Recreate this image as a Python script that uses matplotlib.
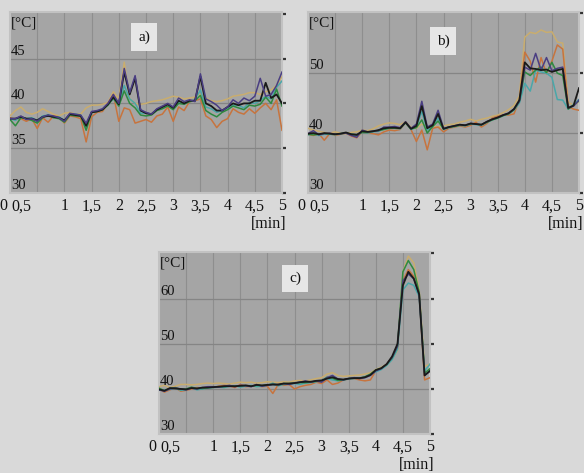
import numpy as np
import matplotlib
matplotlib.use("Agg")
import matplotlib.pyplot as plt

# time axis [min]
t = [i / 10 for i in range(51)]

# ---------- panel a) ----------
a_khaki = [38.6, 39.2, 39.6, 39.0, 38.8, 39.0, 39.4, 39.1, 38.8, 38.6,
           38.9, 39.0, 38.8, 38.8, 39.5, 39.8, 39.8, 39.9, 40.1, 41.3,
           40.5, 44.6, 40.5, 40.0, 39.9, 40.0, 40.2, 40.3, 40.4, 40.6,
           40.8, 40.7, 40.5, 40.6, 40.7, 41.0, 40.6, 40.3, 40.2, 40.3,
           40.5, 40.8, 40.9, 41.0, 41.2, 41.2, 41.0, 41.3, 41.5, 42.0,
           43.0]
a_orange = [38.4, 38.2, 38.3, 38.0, 38.3, 37.2, 38.4, 37.9, 38.6, 38.5,
            37.8, 38.6, 38.5, 38.3, 35.7, 38.5, 39.0, 39.1, 40.0, 41.0,
            38.0, 39.5, 39.3, 37.8, 38.0, 38.2, 37.9, 38.6, 38.8, 39.6,
            38.0, 39.6, 39.2, 40.2, 40.3, 40.5, 38.6, 38.2, 37.3, 38.0,
            38.3, 39.4, 39.0, 38.8, 39.4, 38.9, 39.5, 40.0, 39.3, 40.4,
            37.0]
a_navy = [38.3, 38.3, 38.6, 38.2, 38.3, 38.0, 38.5, 38.7, 38.6, 38.4,
          38.0, 38.9, 38.8, 38.7, 37.8, 39.1, 39.2, 39.4, 40.0, 41.0,
          40.0, 43.9, 41.2, 43.1, 39.3, 39.0, 38.8, 39.4, 39.7, 40.0,
          39.6, 40.6, 40.2, 40.4, 40.2, 43.3, 40.5, 40.2, 39.8, 39.2,
          39.6, 40.4, 40.0, 40.6, 40.3, 40.8, 42.8, 40.8, 41.0, 42.0,
          43.5]
a_teal = [38.3, 38.1, 38.5, 38.3, 38.4, 38.1, 38.6, 38.7, 38.5, 38.5,
          38.1, 38.7, 38.8, 38.7, 37.3, 39.0, 39.1, 39.3, 39.9, 40.5,
          39.8, 42.0, 40.5, 40.0, 38.9, 38.9, 38.8, 39.3, 39.6, 39.9,
          39.5, 40.2, 40.0, 40.2, 40.4, 41.5, 39.6, 39.4, 39.0, 39.2,
          39.5, 39.8, 39.8, 39.5, 40.1, 40.0, 40.3, 40.8, 40.5, 41.8,
          42.5]
a_green = [38.2, 37.5, 38.4, 38.3, 38.1, 37.8, 38.4, 38.7, 38.4, 38.3,
           37.9, 38.7, 38.6, 38.6, 37.0, 39.0, 39.1, 39.3, 39.8, 40.6,
           39.7, 41.4, 40.0, 39.5, 38.7, 38.6, 38.7, 39.2, 39.4, 39.7,
           39.3, 40.0, 39.9, 40.2, 40.3, 40.9, 39.2, 38.8, 38.5, 39.0,
           39.3, 39.7, 39.5, 39.3, 39.8, 39.7, 39.9, 40.7, 40.0, 41.6,
           39.7]
a_black = [38.3, 38.3, 38.5, 38.3, 38.3, 38.1, 38.5, 38.6, 38.5, 38.4,
           38.1, 38.8, 38.7, 38.6, 37.5, 39.0, 39.1, 39.3, 39.9, 40.7,
           39.9, 43.5, 41.0, 42.8, 39.2, 38.9, 38.8, 39.3, 39.6, 39.9,
           39.5, 40.3, 40.0, 40.3, 40.3, 43.0, 40.0, 39.7, 39.2, 39.2,
           39.6, 40.0, 39.8, 40.0, 40.0, 40.3, 40.3, 42.3, 40.6, 41.0,
           40.0]

# ---------- panel b) ----------
b_khaki = [40.8, 40.5, 40.3, 40.1, 40.0, 40.2, 40.0, 39.9, 40.1, 40.2,
           40.5, 40.4, 40.7, 41.2, 41.5, 41.7, 41.6, 41.4, 41.9, 41.0,
           40.8, 41.5, 41.0, 41.2, 41.0, 41.2, 41.4, 41.5, 41.8, 42.0,
           42.3, 42.0, 42.3, 42.5, 42.8, 43.0, 43.4, 43.9, 44.6, 46.2,
           56.0, 56.8, 56.6, 57.2, 56.8, 56.9, 55.2, 55.0, 45.2, 44.6,
           45.3]
b_orange = [39.8, 39.6, 39.9, 38.8, 39.9, 39.6, 39.8, 40.0, 39.5, 39.2,
            40.3, 40.0, 39.9, 39.7, 40.2, 40.5, 40.4, 40.6, 41.8, 40.6,
            38.6, 40.5, 37.2, 40.8, 41.0, 40.2, 40.8, 41.0, 41.2, 41.0,
            41.3, 41.8, 41.0, 41.6, 42.5, 42.8, 43.0, 43.0, 43.2, 45.5,
            53.5, 52.0, 48.5, 52.6, 49.9, 52.0, 54.7, 54.0, 44.4, 44.0,
            43.8]
b_navy = [39.9, 40.4, 39.7, 39.9, 40.0, 39.8, 39.9, 40.0, 39.6, 39.3,
          40.5, 40.2, 40.3, 40.4, 41.0, 41.0, 41.1, 40.9, 41.9, 40.8,
          41.5, 45.3, 41.0, 41.5, 43.8, 40.8, 41.0, 41.2, 41.4, 41.3,
          41.6, 41.5, 41.4, 41.9, 42.3, 42.6, 43.0, 43.3, 44.0, 45.3,
          51.0, 50.5, 53.3, 50.5, 52.6, 50.4, 50.8, 51.0, 44.2, 44.5,
          45.5]
b_teal = [39.7, 39.9, 39.6, 39.8, 39.8, 39.7, 39.9, 40.0, 39.8, 39.6,
          40.2, 40.0, 40.2, 40.3, 40.7, 40.9, 40.8, 40.7, 41.8, 40.6,
          41.0, 43.6, 40.5, 41.0, 42.5, 40.6, 40.9, 41.1, 41.3, 41.2,
          41.5, 41.4, 41.3, 41.8, 42.2, 42.5, 42.9, 43.2, 43.8, 45.0,
          48.3, 47.0, 50.5, 50.2, 50.0, 49.3, 45.6, 45.5, 44.0, 44.8,
          45.6]
b_green = [39.8, 39.7, 39.8, 39.9, 39.9, 39.8, 39.9, 40.0, 39.8, 39.7,
           40.1, 40.1, 40.3, 40.4, 40.6, 40.8, 40.8, 40.8, 41.7, 40.7,
           40.9, 42.2, 40.0, 41.1, 42.0, 40.7, 41.0, 41.1, 41.3, 41.3,
           41.5, 41.5, 41.4, 41.8, 42.2, 42.5, 42.9, 43.2, 43.9, 45.3,
           50.2, 49.6, 50.5, 51.0, 50.1, 51.8, 50.0, 49.6, 44.0, 44.6,
           45.4]
b_black = [39.9, 40.0, 39.8, 40.0, 39.9, 39.8, 39.9, 40.1, 39.8, 39.7,
           40.3, 40.2, 40.3, 40.5, 40.8, 40.9, 40.9, 40.8, 41.8, 40.7,
           41.2, 44.5, 40.8, 41.3, 43.2, 40.7, 41.0, 41.2, 41.4, 41.3,
           41.6, 41.5, 41.4, 41.9, 42.3, 42.6, 43.0, 43.3, 44.0, 45.5,
           51.8, 50.8, 50.7, 50.5, 50.6, 50.2, 50.5, 50.7, 44.2, 44.6,
           47.5]

# ---------- panel c) ----------
c_khaki = [40.5, 40.8, 40.3, 40.6, 41.0, 41.0, 40.9, 41.0, 41.2, 41.3,
           41.2, 41.3, 41.2, 41.1, 41.3, 41.5, 41.4, 41.5, 41.3, 41.4,
           41.6, 41.5, 41.4, 41.6, 41.5, 41.8, 41.9, 41.8, 42.0, 42.3,
           42.5, 43.3, 43.6, 43.0, 42.8, 42.9, 43.0, 43.1, 43.3, 43.6,
           44.3, 44.8, 45.5, 46.8, 48.5, 66.0, 69.5, 68.0, 62.0, 45.0,
           45.5]
c_orange = [40.0, 39.3, 39.8, 40.3, 39.5, 39.7, 40.0, 40.3, 40.2, 40.5,
            40.3, 40.6, 40.8, 40.7, 40.3, 41.0, 40.5, 40.6, 40.8, 40.5,
            40.6, 39.0, 41.0, 40.8, 41.0, 40.0, 40.5, 40.8, 41.0, 41.5,
            41.2, 42.0, 41.0, 41.3, 42.0, 42.2, 42.3, 42.0, 41.8, 42.0,
            44.0, 44.5, 45.5, 47.0, 49.0, 64.0, 66.5, 65.0, 61.0, 42.0,
            42.5]
c_navy = [39.8, 39.5, 40.0, 40.2, 40.0, 39.8, 40.2, 40.0, 40.3, 40.5,
          40.5, 40.4, 40.6, 40.8, 40.5, 40.8, 40.7, 40.5, 41.0, 40.6,
          40.8, 41.0, 40.9, 41.2, 41.0, 41.3, 41.5, 41.8, 41.5, 41.8,
          41.5, 42.5, 43.0, 42.2, 42.0, 42.3, 42.5, 42.3, 42.5, 43.0,
          44.0, 44.5, 45.5, 47.0, 49.5, 64.0, 65.5, 64.5, 61.0, 43.0,
          44.0]
c_teal = [39.7, 39.8, 39.9, 40.2, 39.7, 39.8, 40.3, 39.8, 40.0, 40.2,
          40.3, 40.4, 40.3, 40.6, 40.7, 40.4, 40.6, 40.8, 40.5, 40.6,
          40.8, 41.3, 40.7, 41.0, 41.1, 41.2, 41.0, 41.3, 41.4, 41.6,
          41.8, 42.3, 42.0, 41.8, 42.0, 42.2, 42.3, 42.4, 42.6, 43.2,
          43.8, 44.3, 45.2, 46.5, 48.8, 62.0, 63.5, 63.0, 60.5, 44.0,
          45.5]
c_green = [40.2, 39.6, 40.1, 40.3, 39.9, 40.0, 40.4, 40.1, 40.1, 40.3,
           40.4, 40.5, 40.5, 40.7, 40.6, 40.7, 40.7, 40.6, 40.8, 40.7,
           40.9, 41.0, 40.8, 41.2, 41.2, 41.3, 41.4, 41.4, 41.5, 41.7,
           41.8, 42.6, 42.4, 41.9, 42.0, 42.3, 42.5, 42.4, 42.7, 43.3,
           44.2, 44.6, 45.4, 46.9, 49.5, 66.0, 68.5, 66.5, 61.5, 43.5,
           44.5]
c_black = [39.9, 39.6, 40.2, 40.1, 40.0, 39.9, 40.2, 40.1, 40.3, 40.3,
           40.4, 40.5, 40.6, 40.6, 40.6, 40.7, 40.8, 40.6, 40.9, 40.8,
           40.9, 41.0, 41.0, 41.2, 41.2, 41.3, 41.5, 41.6, 41.6, 41.8,
           41.9, 42.3, 42.6, 42.2, 42.1, 42.3, 42.4, 42.4, 42.6, 43.1,
           44.2, 44.6, 45.5, 47.2, 50.0, 63.0, 66.0, 64.5, 61.0, 43.0,
           44.0]

xticks = [0, 0.5, 1, 1.5, 2, 2.5, 3, 3.5, 4, 4.5, 5]
xlabels = ["0", "0,5", "1", "1,5", "2", "2,5", "3", "3,5", "4", "4,5", "5"]

colors = {"khaki": "#c9ad6e", "orange": "#c7743e", "navy": "#4a3e82",
          "teal": "#4aa7a9", "green": "#2e8a40", "black": "#1a1a1a"}

panels = [
    dict(rect=[10/584, 1-193/473, 272/584, 181/473], ylim=(30, 50.2),
         yticks=[30, 35, 40, 45], letter="a)", lpos=(0.493, 0.862),
         series=[("khaki", a_khaki), ("orange", a_orange), ("teal", a_teal),
                 ("green", a_green), ("black", a_black), ("navy", a_navy)]),
    dict(rect=[308/584, 1-193/473, 271/584, 181/473], ylim=(30, 60.2),
         yticks=[30, 40, 50], letter="b)", lpos=(0.498, 0.84),
         series=[("khaki", b_khaki), ("orange", b_orange), ("teal", b_teal),
                 ("green", b_green), ("navy", b_navy), ("black", b_black)]),
    dict(rect=[159/584, 1-434/473, 271/584, 182/473], ylim=(30, 70.4),
         yticks=[30, 40, 50, 60], letter="c)", lpos=(0.502, 0.854),
         series=[("khaki", c_khaki), ("orange", c_orange), ("teal", c_teal),
                 ("green", c_green), ("navy", c_navy), ("black", c_black)]),
]

serif = ["Liberation Serif", "DejaVu Serif"]
tc = "#111111"

fig = plt.figure(figsize=(5.84, 4.73), dpi=100)
fig.patch.set_facecolor("#d9d9d9")

for p in panels:
    ax = fig.add_axes(p["rect"])
    ax.set_facecolor("#a5a5a5")
    ax.set_xlim(0, 5)
    ax.set_ylim(*p["ylim"])
    for name, vals in p["series"]:
        lw = 1.3 if name == "black" else 1.1
        ax.plot(t, vals, color=colors[name], lw=lw, zorder=3)
    # grid
    for xv in xticks[1:-1]:
        ax.axvline(xv, color="#8e8e8e", lw=0.8, zorder=1)
    for yv in p["yticks"][1:]:
        ax.axhline(yv, color="#858585", lw=0.9, zorder=1)
    # y labels inside plot
    for yv in p["yticks"]:
        ax.text(0.004, yv + (p["ylim"][1] - 30) * 0.005, str(yv),
                transform=ax.get_yaxis_transform(), ha="left", va="bottom",
                fontsize=10.5, family=serif, color=tc, zorder=5)
    ax.text(0.004, 0.94, "[°C]", transform=ax.transAxes, ha="left",
            va="center", fontsize=11, family=serif, color=tc, zorder=5)
    ax.text(p["lpos"][0], p["lpos"][1], p["letter"], transform=ax.transAxes,
            ha="center", va="center", fontsize=11, family=serif,
            color=tc, zorder=6,
            bbox=dict(boxstyle="square,pad=0.45", fc="#e6e6e6", ec="none"))
    # x tick labels
    ax.set_xticks(xticks)
    ax.set_xticklabels([])
    ax.tick_params(axis="x", length=0)
    for xv, lab in zip(xticks, xlabels):
        xpos = xv
        if xv == 0:
            xpos = -0.12
        elif xv == 0.5:
            xpos = 0.21
        ax.text(xpos, -0.03, lab, transform=ax.get_xaxis_transform(),
                ha="center", va="top", fontsize=11.5, family=serif,
                color=tc, clip_on=False)
    ax.text(1.015, -0.125, "[min]", transform=ax.transAxes, ha="right",
            va="top", fontsize=11.5, family=serif, color=tc,
            clip_on=False)
    # right side tick marks
    ax.set_yticks(list(p["yticks"]) + [p["ylim"][1] - 0.2])
    ax.set_yticklabels([])
    ax.tick_params(axis="y", left=False, right=True, direction="out",
                   length=3, width=1.6, colors="#333333")
    for s in ax.spines.values():
        s.set_color("#c2c2c2")
        s.set_linewidth(1.5)

fig.savefig("out.png", dpi=100, facecolor=fig.get_facecolor())
